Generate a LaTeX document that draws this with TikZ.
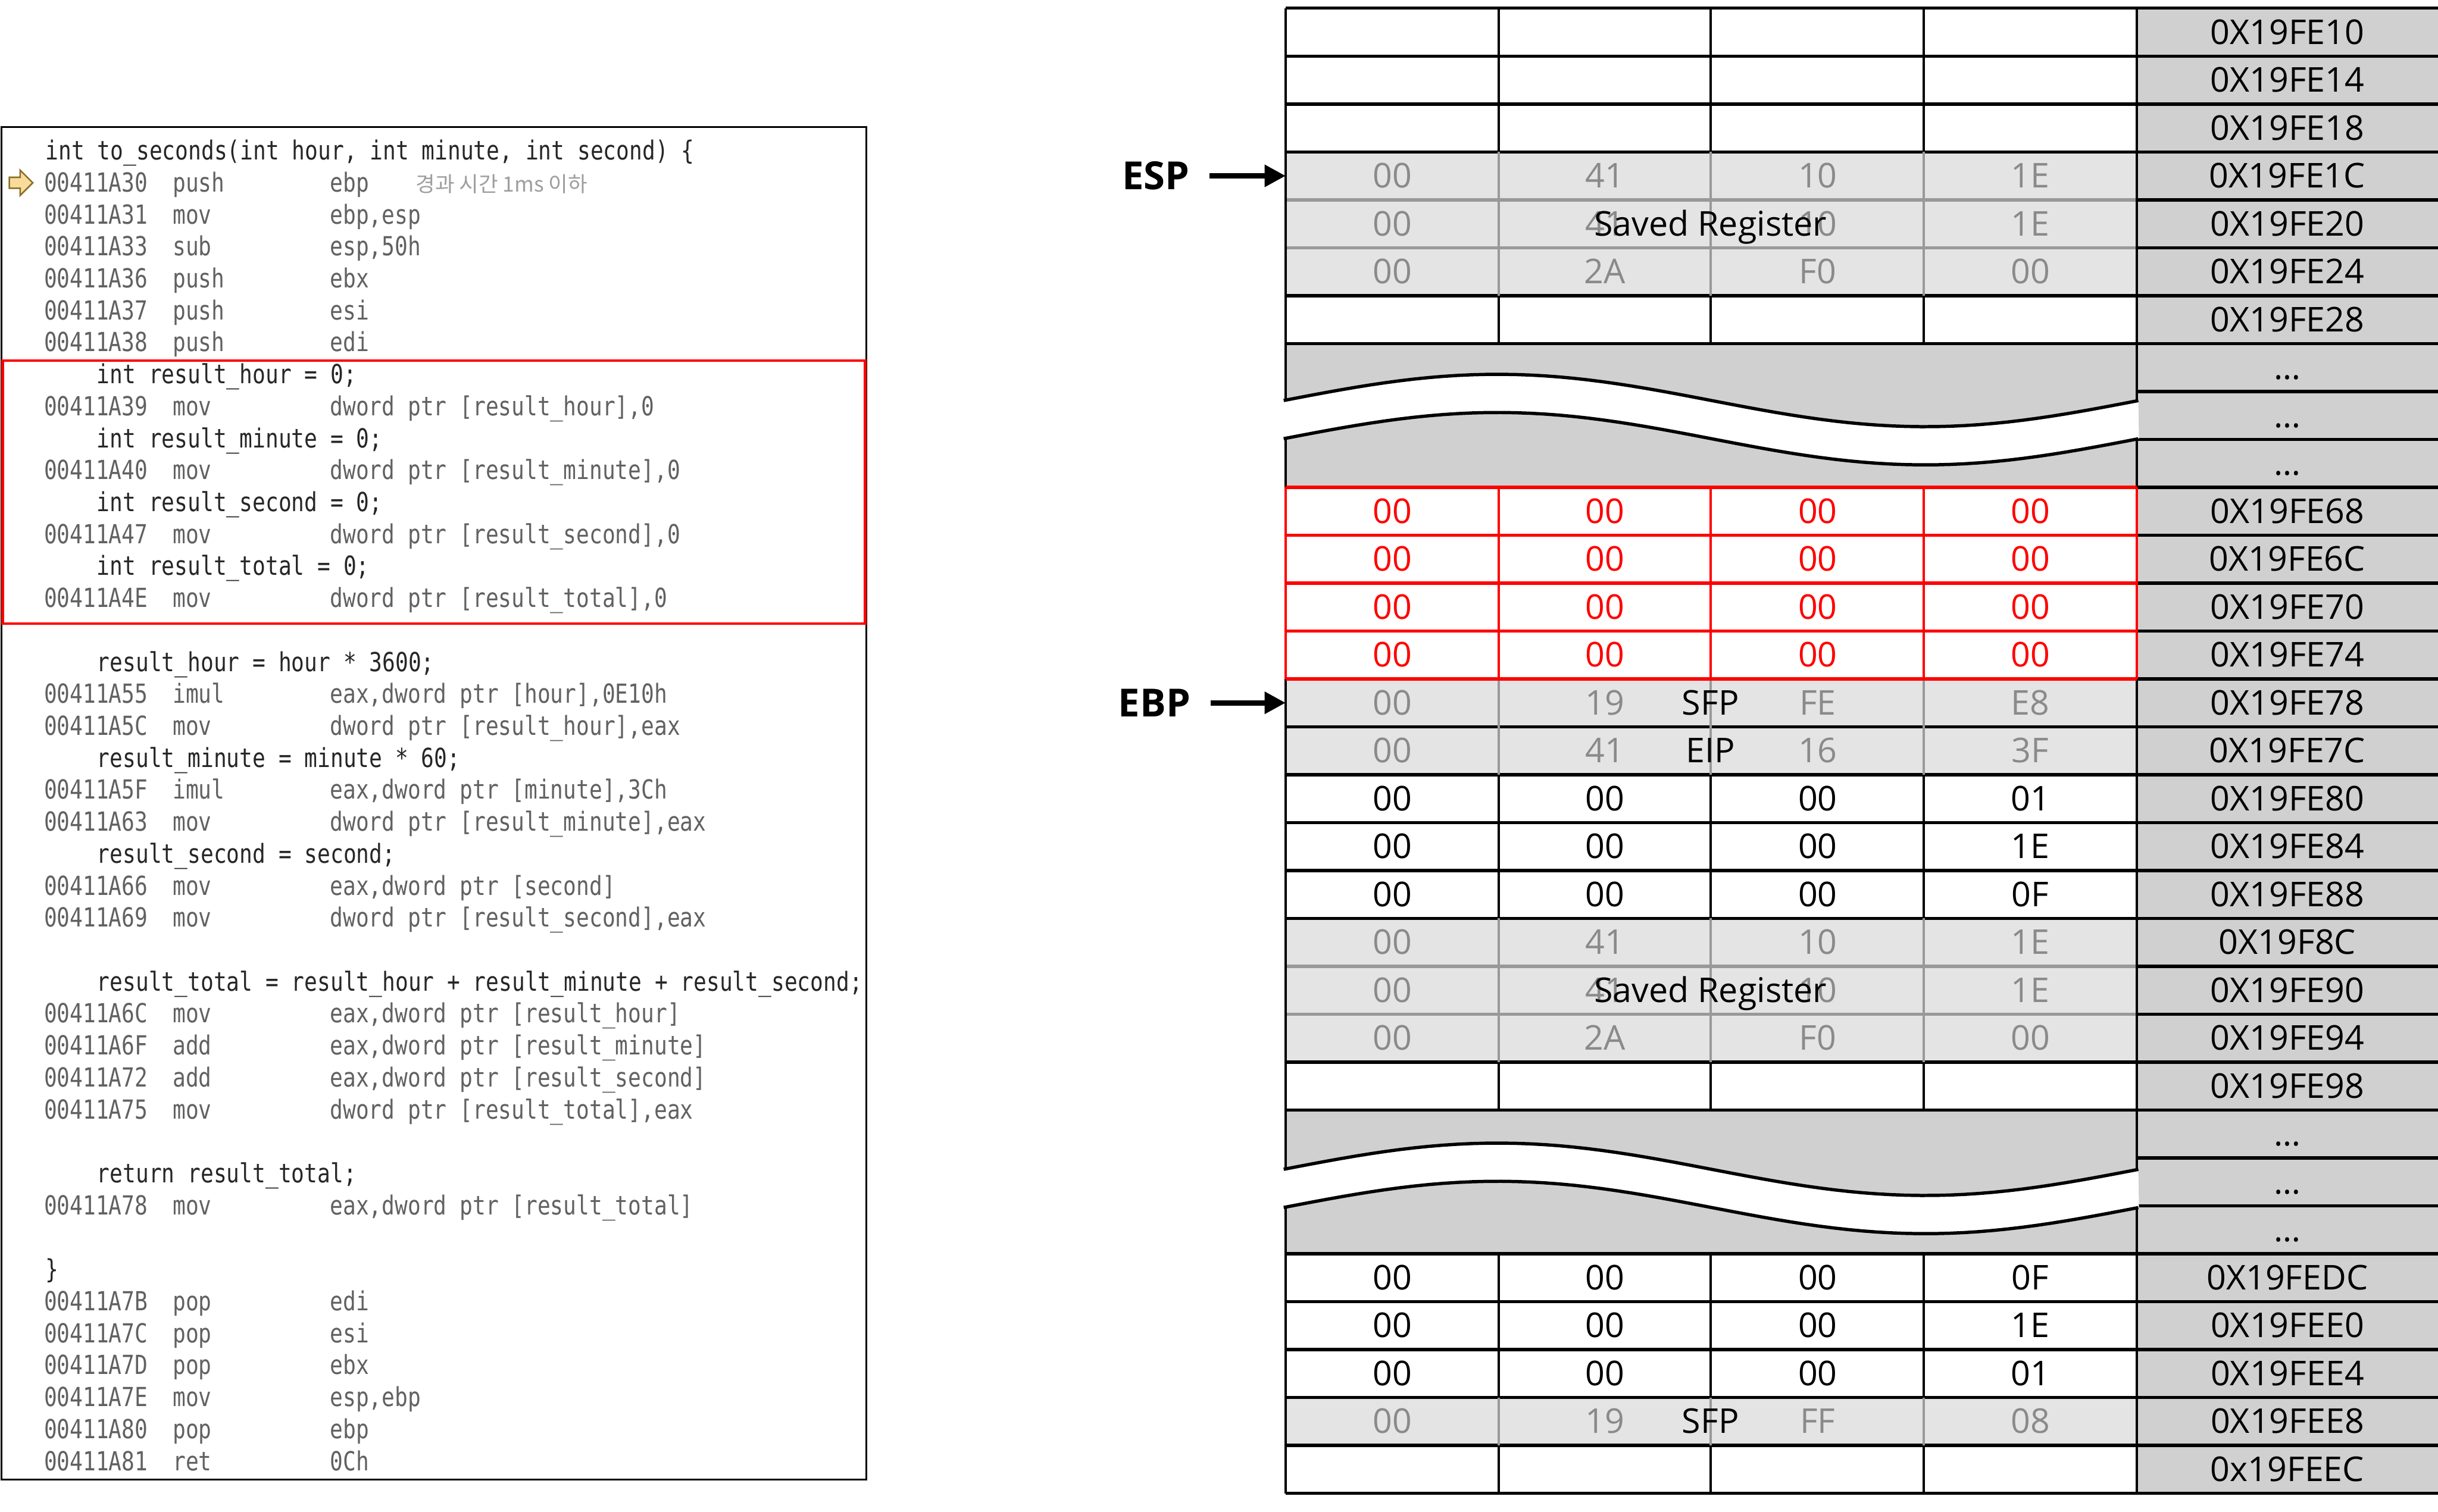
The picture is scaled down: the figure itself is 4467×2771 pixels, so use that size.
\documentclass[tikz,border=0pt]{standalone}
\usepackage{fontspec}
\setmainfont{Open Sans}
\newfontfamily\codefont[FakeStretch=0.82]{DejaVu Sans Mono}
\newfontfamily\krfont{Noto Sans CJK KR}
\usetikzlibrary{arrows.meta}

\definecolor{addrgray}{HTML}{D0D0D0}
\definecolor{rowgray}{HTML}{E4E4E4}
\definecolor{linegray}{HTML}{999999}
\definecolor{txtgray}{HTML}{8A8A8A}
\definecolor{marker}{HTML}{F8DC9C}
\definecolor{markerline}{HTML}{8C6E28}

\begin{document}
\begin{tikzpicture}[x=0.1mm, y=-0.1mm,
  byte/.style={minimum width=38.9mm, minimum height=8.78mm, inner sep=0pt, text height=4.4mm, text depth=0mm, font=\fontsize{17.8}{20}\selectfont},
  gbyte/.style={byte, text=txtgray},
  rbyte/.style={byte, text=red},
  addr/.style={byte, minimum width=55mm},
  tag/.style={inner sep=0pt, text height=4.4mm, text depth=0mm, font=\fontsize{17.8}{20}\selectfont},
  reg/.style={inner sep=0pt, text height=5mm, text depth=0mm, font=\bfseries\fontsize{20.2}{22}\selectfont},
  ptr/.style={-{Triangle[length=11pt,width=11pt]}, line width=2.8pt},
  hline/.style={line width=1.7pt},
  vline/.style={line width=1.3pt},
  src/.style={anchor=base west, inner sep=0pt, font=\codefont\fontsize{13.7}{15}\selectfont, text=black!85},
  asm/.style={src, text=black!62},
]
\useasboundingbox (0,0) rectangle (4467,2771);

% code listing
\draw[line width=1pt] (3,233) rectangle (1587,2712);
\draw[red, line width=1.4pt] (5,661) rectangle (1585,1143);
\draw[markerline, fill=marker, line width=0.8pt] (17,325) -- (37,325) -- (37,312) -- (60,335) -- (37,358) -- (37,345) -- (17,345) -- cycle;
\foreach \k/\ind/\t in {0/83/{int to\_seconds(int hour, int minute, int second) \{},
    7/177/{int result\_hour = 0;}, 9/177/{int result\_minute = 0;},
    11/177/{int result\_second = 0;}, 13/177/{int result\_total = 0;},
    16/177/{result\_hour = hour * 3600;}, 19/177/{result\_minute = minute * 60;},
    22/177/{result\_second = second;},
    26/177/{result\_total = result\_hour + result\_minute + result\_second;},
    32/177/{return result\_total;}, 35/83/{\}}}
  \node[src] (s\k) at (\ind,{293+58.58*\k}) {\t};
\foreach \k/\ad/\mn/\op in {1/00411A30/push/ebp, 2/00411A31/mov/{ebp,esp}, 3/00411A33/sub/{esp,50h},
    4/00411A36/push/ebx, 5/00411A37/push/esi, 6/00411A38/push/edi,
    8/00411A39/mov/{dword ptr [result\_hour],0}, 10/00411A40/mov/{dword ptr [result\_minute],0},
    12/00411A47/mov/{dword ptr [result\_second],0}, 14/00411A4E/mov/{dword ptr [result\_total],0},
    17/00411A55/imul/{eax,dword ptr [hour],0E10h}, 18/00411A5C/mov/{dword ptr [result\_hour],eax},
    20/00411A5F/imul/{eax,dword ptr [minute],3Ch}, 21/00411A63/mov/{dword ptr [result\_minute],eax},
    23/00411A66/mov/{eax,dword ptr [second]}, 24/00411A69/mov/{dword ptr [result\_second],eax},
    27/00411A6C/mov/{eax,dword ptr [result\_hour]}, 28/00411A6F/add/{eax,dword ptr [result\_minute]},
    29/00411A72/add/{eax,dword ptr [result\_second]}, 30/00411A75/mov/{dword ptr [result\_total],eax},
    33/00411A78/mov/{eax,dword ptr [result\_total]},
    36/00411A7B/pop/edi, 37/00411A7C/pop/esi, 38/00411A7D/pop/ebx,
    39/00411A7E/mov/{esp,ebp}, 40/00411A80/pop/ebp, 41/00411A81/ret/0Ch} {
  \node[asm] (l\k) at (80,{293+58.58*\k}) {\ad};
  \node[asm] (m\k) at (316,{293+58.58*\k}) {\mn};
  \node[asm] (o\k) at (604,{293+58.58*\k}) {\op};
}
\node[src, text=black!38, font=\krfont\fontsize{11}{12}\selectfont] (cmt) at (761,{293+58.58}) {경과 시간 1ms 이하};

% stack memory
\fill[addrgray] (3915,15) rectangle (4467,2737);
\foreach \r in {3,4,5,14,15,19,20,21,29}
  \fill[rowgray] (2356,{15+87.8*\r}) rectangle (3915,{15+87.8*(\r+1)});
\foreach \r in {7,23}
  \fill[addrgray] (2356,{15+87.8*\r}) rectangle (3915,{15+87.8*(\r+3)});

\foreach \i in {0,...,31}
  \draw[hline] (3915,{15+87.8*\i}) -- (4467,{15+87.8*\i});
\foreach \i in {0,1,2,3,4,5,6,7,10,11,12,13,14,15,16,17,18,19,20,21,22,23,26,27,28,29,30,31}
  \draw[hline] (2356,{15+87.8*\i}) -- (3915,{15+87.8*\i});
\foreach \i in {4,5,20,21}
  \draw[hline, linegray] (2356,{15+87.8*\i}) -- (3915,{15+87.8*\i});
\foreach \r/\col in {0/black,1/black,2/black,3/linegray,4/linegray,5/linegray,6/black,
    14/linegray,15/linegray,16/black,17/black,18/black,19/linegray,20/linegray,21/linegray,22/black,
    26/black,27/black,28/black,29/linegray,30/black}
  \foreach \x in {2746,3134,3525}
    \draw[vline, \col] (\x,{15+87.8*\r}) -- (\x,{15+87.8*(\r+1)});
\draw[vline] (2356,15) -- (2356,2737);
\draw[vline] (3915,15) -- (3915,2737);

\foreach \i in {10,...,14}
  \draw[hline, red] (2356,{15+87.8*\i}) -- (3915,{15+87.8*\i});
\foreach \x in {2356,2746,3134,3525,3915}
  \draw[vline, red] (\x,{15+87.8*10}) -- (\x,{15+87.8*14});

\foreach \w in {734,2143} {
  \fill[white] plot[domain=0:1, samples=60] ({2352+1567*\x},{\w-48*sin(360*\x)})
    -- plot[domain=1:0, samples=60] ({2352+1567*\x},{\w+70-48*sin(360*\x)}) -- cycle;
  \draw[hline] plot[domain=0:1, samples=60] ({2352+1567*\x},{\w-48*sin(360*\x)});
  \draw[hline] plot[domain=0:1, samples=60] ({2352+1567*\x},{\w+70-48*sin(360*\x)});
}

\foreach \a [count=\i from 0] in {0X19FE10,0X19FE14,0X19FE18,0X19FE1C,0X19FE20,0X19FE24,0X19FE28,
    \ldots,\ldots,\ldots,0X19FE68,0X19FE6C,0X19FE70,0X19FE74,0X19FE78,0X19FE7C,0X19FE80,
    0X19FE84,0X19FE88,0X19F8C,0X19FE90,0X19FE94,0X19FE98,\ldots,\ldots,\ldots,
    0X19FEDC,0X19FEE0,0X19FEE4,0X19FEE8,0x19FEEC}
  \node[addr] (a\i) at (4191,{58.9+87.8*\i}) {\a};

\foreach \r/\s/\p/\q/\u/\v in {3/gbyte/00/41/10/1E, 4/gbyte/00/41/10/1E, 5/gbyte/00/2A/F0/00,
    10/rbyte/00/00/00/00, 11/rbyte/00/00/00/00, 12/rbyte/00/00/00/00, 13/rbyte/00/00/00/00,
    14/gbyte/00/19/FE/E8, 15/gbyte/00/41/16/3F, 16/byte/00/00/00/01, 17/byte/00/00/00/1E,
    18/byte/00/00/00/0F, 19/gbyte/00/41/10/1E, 20/gbyte/00/41/10/1E, 21/gbyte/00/2A/F0/00,
    26/byte/00/00/00/0F, 27/byte/00/00/00/1E, 28/byte/00/00/00/01, 29/gbyte/00/19/FF/08}
  \foreach \t [count=\c] in {\p,\q,\u,\v}
    \node[\s] (c\r-\c) at ({2356+389.75*(\c-0.5)},{58.9+87.8*\r}) {\t};

\node[tag] (sav1) at (3134,{58.9+87.8*4}) {Saved Register};
\node[tag] (sfp1) at (3134,{58.9+87.8*14}) {SFP};
\node[tag] (eip) at (3134,{58.9+87.8*15}) {EIP};
\node[tag] (sav2) at (3134,{58.9+87.8*20}) {Saved Register};
\node[tag] (sfp2) at (3134,{58.9+87.8*29}) {SFP};

\node[reg] (esp) at (2118,{58.9+87.8*3}) {ESP};
\node[reg] (ebp) at (2115,{58.9+87.8*14}) {EBP};
\draw[ptr, shorten <=3.6mm] (esp) -- (c3-1);
\draw[ptr, shorten <=3.6mm] (ebp) -- (c14-1);
\end{tikzpicture}
\end{document}
